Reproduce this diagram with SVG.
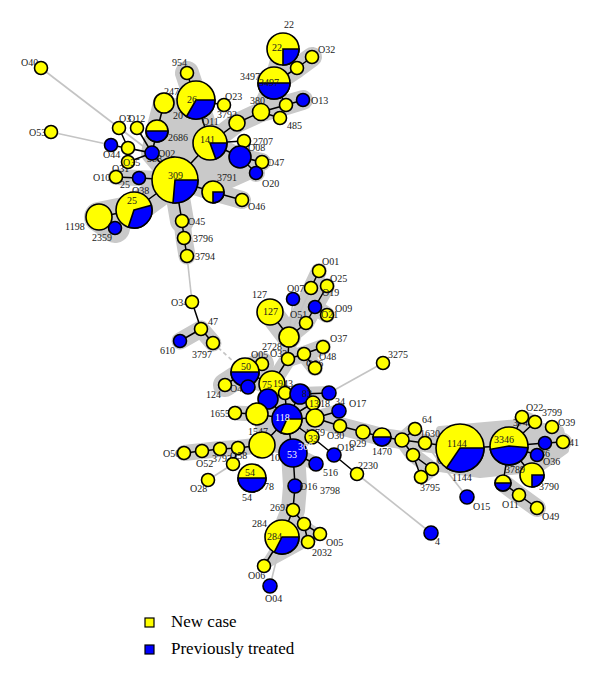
<svg xmlns="http://www.w3.org/2000/svg" width="600" height="682" viewBox="0 0 600 682">
<style>
.y{fill:#ffff00;stroke:#000;stroke-width:1.6}
.b{fill:#0000ff;stroke:#000;stroke-width:1.6}
.ps{fill:#0000ff;stroke:#000;stroke-width:1.6}
.py{fill:#ffff00;stroke:#000;stroke-width:1.6}
.e path{stroke:#000;stroke-width:1.5;fill:none}
.gl{stroke:#c4c4c4;stroke-width:1.6;fill:none}
.h path{stroke:#c9c9c9;fill:none;stroke-linecap:round;stroke-linejoin:round}
.h polygon{fill:#c9c9c9;stroke:#c9c9c9;stroke-width:8;stroke-linejoin:round}
text{font-family:"Liberation Serif","Times New Roman",serif;font-size:10px;fill:#1a1a1a}
.w{fill:#fff}
.lg{font-size:17px;fill:#000}
</style>
<rect width="600" height="682" fill="#fff"/>
<g id="hulls" class="h">
<polygon points="164,103 196,100 210,143 175,180 152,153"/>
<polygon points="175,180 210,143 240,157 256,173 213,192"/>
<path d="M187,73 L196,100 L210,143 L175,180" stroke-width="24"/>
<path d="M164,103 L157,131 L152,153 L175,180" stroke-width="22"/>
<path d="M210,143 L237,123 L261,112 L286,105 L303,100" stroke-width="20"/>
<path d="M274,83 L283,49 M274,83 L297,68 L312,57 M274,83 L261,112" stroke-width="20"/>
<path d="M175,180 L134,210 L99,217 L115,228" stroke-width="30"/>
<path d="M175,180 L213,192 L242,200" stroke-width="18"/>
<path d="M175,180 L182,221" stroke-width="24"/>
<path d="M182,221 L184,238 L187,256" stroke-width="17"/>
<path d="M210,143 L240,157 L256,173 M240,157 L262,162" stroke-width="18"/>
<path d="M116,177 L139,178 L175,180" stroke-width="16"/>
<path d="M180,341 L201,329 L213,343" stroke-width="17"/>
<path d="M270,312 L289,337" stroke-width="24"/>
<path d="M289,337 L306,323 L315,307 L327,286 M289,337 L311,288 L319,271 M315,307 L327,315" stroke-width="16"/>
<path d="M289,337 L288,359 L272,384 M288,359 L304,354 L323,347 M304,354 L315,368" stroke-width="16"/>
<path d="M245,372 L272,384 L287,419 M225,385 L245,372 L262,364" stroke-width="24"/>
<polygon points="268,399 300,394 313,403 315,418 312,437 293,453 262,445 257,414"/>
<path d="M287,419 L293,453 L295,486 L293,510 L282,537" stroke-width="24"/>
<polygon points="264,566 282,537 293,510 304,524 320,534 308,542"/>
<path d="M184,453 L202,451 L220,449 L238,448 L262,445 L287,419" stroke-width="16"/>
<path d="M235,413 L257,414 L287,419" stroke-width="15"/>
<path d="M287,419 L315,418 L340,426 L363,432 L382,437 L402,440 L425,443 L460,448 L509,446 L545,443 L563,442" stroke-width="18"/>
<polygon points="440,430 520,423 560,430 565,450 540,468 480,474 440,468"/>
<path d="M402,440 L413,455 L432,469 L421,477 M415,429 L402,440" stroke-width="15"/>
<path d="M509,446 L532,475 M503,483 L519,495 L537,508" stroke-width="18"/>
<path d="M315,418 L339,411 M300,394 L329,393 M293,453 L316,464" stroke-width="14"/>
<path d="M509,446 L522,417 L535,422" stroke-width="14"/>
</g>
<g id="connectors">
<g class="gl">
<path d="M41,68 L152,153"/>
<path d="M51,132 L111,145"/>
<path d="M187,256 L192,302"/>
<path d="M213,343 L245,372" stroke-dasharray="4,3"/>
<path d="M329,393 L383,363"/>
<path d="M357,474 L431,533"/>
<path d="M425,443 L467,497"/>
<path d="M311,288 L289,337"/>
<path d="M293,299 L289,337"/>
<path d="M270,586 L282,537"/>
<path d="M233,464 L208,480"/>
</g>
<g class="e">
<path d="M187,73 L196,100 M196,100 L224,105 M196,100 L210,143 M164,103 L157,131 L152,153"/>
<path d="M152,153 L128,148 M152,153 L111,145 M152,153 L128,162 M152,153 L175,180 M137,128 L152,153 M119,128 L128,148"/>
<path d="M116,177 L139,178 L175,180 M175,180 L210,143 M175,180 L134,210 M175,180 L213,192 L242,200"/>
<path d="M175,180 L182,221 L184,238 L187,256 M134,210 L99,217 M99,217 L115,228"/>
<path d="M210,143 L237,123 L261,112 L286,105 L303,100 M261,112 L280,118 M286,105 L274,83"/>
<path d="M274,83 L297,68 L283,49 M297,68 L312,57"/>
<path d="M210,143 L244,141 M210,143 L240,157 M240,157 L262,162 M240,157 L256,173"/>
<path d="M192,302 L201,329 M201,329 L180,341 M201,329 L213,343"/>
<path d="M270,312 L289,337 M289,337 L306,323 L315,307 L327,286 M315,307 L327,315 M319,271 L311,288"/>
<path d="M289,337 L288,359 L272,384 M288,359 L304,354 L323,347 M304,354 L315,368"/>
<path d="M245,372 L262,364 M245,372 L225,385 M245,372 L248,387 M245,372 L272,384 M272,384 L268,399 M272,384 L285,393"/>
<path d="M287,419 L268,399 M287,419 L285,393 M287,419 L300,394 M287,419 L313,403 M287,419 L315,418 M287,419 L312,437 M287,419 L293,453 M287,419 L262,445 M287,419 L257,414"/>
<path d="M235,413 L257,414 M300,394 L329,393"/>
<path d="M315,418 L339,411 M315,418 L340,426 L363,432 L382,437 L402,440 L415,429 M402,440 L425,443 L460,448 M402,440 L413,455 L432,469 L421,477 L413,455"/>
<path d="M262,445 L238,448 L220,449 L202,451 L184,453 M238,448 L233,464"/>
<path d="M293,453 L316,464 M293,453 L295,486 L293,510 L304,524 L320,534 L308,542 L304,524 M293,510 L282,537 M282,537 L264,566"/>
<path d="M312,437 L334,455 L357,474"/>
<path d="M460,448 L509,446 M509,446 L522,417 M509,446 L535,422 M509,446 L545,443 L563,442 M509,446 L537,455 M509,446 L532,475 M509,446 L503,483 M503,483 L519,495 L537,508"/>
</g>
</g>
<g id="nodes">
<g id="n-O40"><text x="21" y="66">O40</text><circle class="y" cx="41" cy="68" r="6.5"/></g>
<g id="n-O53"><text x="29" y="136">O53</text><circle class="y" cx="51" cy="132" r="6.5"/></g>
<g id="n-954"><text x="172" y="66">954</text><circle class="y" cx="187" cy="73" r="6.5"/></g>
<g id="n-247"><text x="164" y="95">247</text><circle class="y" cx="164" cy="103" r="10"/></g>
<g id="n-26"><text x="173" y="119">20</text><circle class="py" cx="196" cy="100" r="19"/><path class="ps" d="M196,100 L215,100 A19,19 0 0 1 186.5,116.5 Z"/><text x="187" y="103">26</text></g>
<g id="n-O12"><text x="119" y="122">O3</text><text x="128" y="122">O12</text><circle class="y" cx="119" cy="128" r="6.5"/><circle class="y" cx="137" cy="128" r="6.5"/></g>
<g id="n-2686"><circle class="py" cx="157" cy="131" r="11"/><path class="ps" d="M168,131 A11,11 0 0 1 146,131 Z"/><text x="168" y="141">2686</text></g>
<g id="n-22"><text x="284" y="28">22</text><circle class="py" cx="283" cy="49" r="16"/><path class="ps" d="M283,49 L299,49 A16,16 0 0 1 283,65 Z"/><text x="272" y="51">22</text></g>
<g id="n-O32"><circle class="y" cx="297" cy="68" r="6.5"/><text x="318" y="53">O32</text><circle class="y" cx="312" cy="57" r="6.5"/></g>
<g id="n-3497"><text x="240" y="80">3497</text><circle class="py" cx="274" cy="83" r="16"/><path class="ps" d="M290,83 A16,16 0 0 1 258,83 Z"/><text x="259" y="86">3497</text></g>
<g id="n-O23"><text x="225" y="100">O23</text><circle class="y" cx="224" cy="105" r="6.5"/></g>
<g id="n-380"><text x="250" y="104">380</text><circle class="y" cx="261" cy="112" r="8.5"/></g>
<g id="n-O13"><circle class="y" cx="286" cy="105" r="6.5"/><text x="311" y="104">O13</text><circle class="b" cx="303" cy="100" r="6.5"/></g>
<g id="n-485"><text x="287" y="129">485</text><circle class="y" cx="280" cy="118" r="6.5"/></g>
<g id="n-3792"><text x="217" y="118">3792</text><circle class="y" cx="237" cy="123" r="8"/></g>
<g id="n-141"><text x="202" y="125">O11</text><circle class="py" cx="210" cy="143" r="17"/><path class="ps" d="M210,143 L227,143 A17,17 0 0 1 215.8,159 Z"/><text x="200" y="143">141</text></g>
<g id="n-2707"><text x="253" y="145">2707</text><text x="248" y="151">O08</text><circle class="y" cx="244" cy="141" r="6.5"/></g>
<g id="n-O08"><circle class="b" cx="240" cy="157" r="11"/></g>
<g id="n-O47"><text x="267" y="166">O47</text><circle class="y" cx="262" cy="162" r="6.5"/></g>
<g id="n-O20"><text x="262" y="187">O20</text><circle class="b" cx="256" cy="173" r="6.5"/></g>
<g id="n-O44"><text x="103" y="158">O44</text><circle class="b" cx="111" cy="145" r="6.5"/></g>
<g id="n-O35"><circle class="y" cx="128" cy="148" r="6.5"/><text x="112" y="172">O31</text><circle class="y" cx="128" cy="162" r="6.5"/><text x="123" y="166">O35</text></g>
<g id="n-O02"><text x="147" y="162">388</text><circle class="b" cx="152" cy="153" r="7"/><text x="158" y="157">O02</text></g>
<g id="n-O10"><text x="93" y="181">O10</text><circle class="y" cx="116" cy="177" r="6.5"/></g>
<g id="n-O38"><circle class="b" cx="139" cy="178" r="6.5"/><text x="120" y="188">25</text><text x="132" y="194">O38</text></g>
<g id="n-309"><circle class="py" cx="175" cy="180" r="23"/><path class="ps" d="M175,180 L198,180 A23,23 0 0 1 173,202.9 Z"/><text x="168" y="179">309</text></g>
<g id="n-3791"><text x="217" y="181">3791</text><circle class="py" cx="213" cy="192" r="11"/><path class="ps" d="M213,192 L224,192 A11,11 0 0 1 213,203 Z"/></g>
<g id="n-O46"><text x="248" y="210">O46</text><circle class="y" cx="242" cy="200" r="6.5"/></g>
<g id="n-1198"><text x="65" y="230">1198</text><circle class="y" cx="99" cy="217" r="13"/></g>
<g id="n-2359"><text x="92" y="241">2359</text><circle class="b" cx="115" cy="228" r="6.5"/></g>
<g id="n-25"><circle class="py" cx="134" cy="210" r="18"/><path class="ps" d="M134,210 L151.4,205.3 A18,18 0 0 1 128.4,227.1 Z"/><text x="127" y="204">25</text></g>
<g id="n-O45"><text x="188" y="225">O45</text><circle class="y" cx="182" cy="221" r="6.5"/></g>
<g id="n-3796"><text x="193" y="242">3796</text><circle class="y" cx="184" cy="238" r="6.5"/></g>
<g id="n-3794"><text x="195" y="260">3794</text><circle class="y" cx="187" cy="256" r="6.5"/></g>
<g id="n-O34"><text x="171" y="306">O34</text><circle class="y" cx="192" cy="302" r="6.5"/></g>
<g id="n-47"><text x="208" y="325">47</text><circle class="y" cx="201" cy="329" r="6.5"/></g>
<g id="n-610"><text x="160" y="354">610</text><circle class="b" cx="180" cy="341" r="6.5"/></g>
<g id="n-3797"><text x="192" y="358">3797</text><circle class="y" cx="213" cy="343" r="6.5"/></g>
<g id="n-127"><text x="252" y="298">127</text><circle class="y" cx="270" cy="312" r="13"/><text x="263" y="315">127</text></g>
<g id="n-O07"><text x="287" y="292">O07</text><circle class="b" cx="293" cy="299" r="6.5"/></g>
<g id="n-O01"><text x="322" y="265">O01</text><circle class="y" cx="319" cy="271" r="6.5"/><circle class="y" cx="311" cy="288" r="6.5"/></g>
<g id="n-O25"><text x="330" y="282">O25</text><circle class="y" cx="327" cy="286" r="6.5"/></g>
<g id="n-O19"><text x="322" y="296">O19</text><circle class="b" cx="315" cy="307" r="6.5"/></g>
<g id="n-O09"><text x="335" y="312">O09</text><circle class="y" cx="327" cy="315" r="6.5"/><text x="321" y="318">O21</text></g>
<g id="n-O51"><text x="290" y="318">O51</text><circle class="y" cx="306" cy="323" r="6.5"/></g>
<g id="n-2728"><text x="262" y="350">2728</text><circle class="y" cx="289" cy="337" r="10"/></g>
<g id="n-O37"><text x="330" y="342">O37</text><circle class="y" cx="323" cy="347" r="6.5"/></g>
<g id="n-O48"><text x="319" y="360">O48</text><text x="306" y="367">O06</text><circle class="y" cx="304" cy="354" r="6.5"/></g>
<g id="n-O06a"><circle class="y" cx="315" cy="368" r="6.5"/></g>
<g id="n-O33"><text x="270" y="357">O33</text><circle class="y" cx="288" cy="359" r="6.5"/></g>
<g id="n-3275"><text x="388" y="358">3275</text><circle class="y" cx="383" cy="363" r="6.5"/></g>
<g id="n-O05a"><text x="251" y="358">O05</text><circle class="y" cx="262" cy="364" r="6.5"/></g>
<g id="n-50"><circle class="py" cx="245" cy="372" r="14"/><path class="ps" d="M259,372 A14,14 0 0 1 231,372 Z"/><text x="241" y="370">50</text></g>
<g id="n-124"><text x="206" y="398">124</text><circle class="y" cx="225" cy="385" r="6.5"/></g>
<g id="n-O43"><text x="230" y="392">O43</text><circle class="b" cx="248" cy="387" r="7"/></g>
<g id="n-75"><circle class="y" cx="272" cy="384" r="13"/><text x="262" y="388">75</text><text x="273" y="387">1943</text></g>
<g id="n-B1"><circle class="b" cx="268" cy="399" r="10"/></g>
<g id="n-Y1"><circle class="y" cx="285" cy="393" r="6.5"/></g>
<g id="n-83"><circle class="b" cx="300" cy="394" r="10"/><text x="302" y="397">83</text></g>
<g id="n-B2"><circle class="b" cx="329" cy="393" r="7"/></g>
<g id="n-13"><circle class="y" cx="313" cy="403" r="7"/><text x="309" y="407">13</text><text x="320" y="407">18</text></g>
<g id="n-34"><text x="335" y="405">34</text><text x="349" y="407">O17</text><circle class="b" cx="339" cy="411" r="7"/></g>
<g id="n-1655"><text x="210" y="417">1655</text><circle class="y" cx="235" cy="413" r="6.5"/><circle class="y" cx="257" cy="414" r="11"/></g>
<g id="n-Y2"><circle class="y" cx="315" cy="418" r="9"/></g>
<g id="n-O30"><text x="327" y="439">O30</text><circle class="y" cx="340" cy="426" r="6.5"/></g>
<g id="n-118"><circle class="b" cx="287" cy="419" r="15"/><path class="py" d="M287,419 L302,419 A15,15 0 0 1 280.7,432.6 Z"/><text class="w" x="275" y="421">118</text></g>
<g id="n-1547"><text x="248" y="435">1547</text><circle class="y" cx="262" cy="445" r="13"/></g>
<g id="n-1079"><text x="305" y="436">1079</text><circle class="y" cx="312" cy="437" r="7"/><text x="308" y="442">33</text></g>
<g id="n-53"><text x="270" y="461">108</text><circle class="b" cx="293" cy="453" r="14"/><text class="w" x="287" y="458">53</text><text class="w" x="298" y="450">368</text></g>
<g id="n-516"><text x="323" y="476">516</text><circle class="b" cx="316" cy="464" r="7"/></g>
<g id="n-O18"><text x="337" y="451">O18</text><circle class="b" cx="334" cy="455" r="7"/></g>
<g id="n-2230"><text x="358" y="469">2230</text><circle class="y" cx="357" cy="474" r="6.5"/></g>
<g id="n-4"><text x="435" y="545">4</text><circle class="b" cx="431" cy="533" r="7"/></g>
<g id="n-O29"><text x="349" y="447">O29</text><circle class="y" cx="363" cy="432" r="7"/></g>
<g id="n-1470"><text x="372" y="455">1470</text><circle class="py" cx="382" cy="437" r="9"/><path class="ps" d="M391,437 A9,9 0 0 1 373,437 Z"/></g>
<g id="n-Y3"><circle class="y" cx="402" cy="440" r="7"/></g>
<g id="n-64"><text x="422" y="423">64</text><circle class="y" cx="415" cy="429" r="6.5"/></g>
<g id="n-1630"><text x="420" y="437">1630</text><circle class="y" cx="425" cy="443" r="6.5"/></g>
<g id="n-42"><text x="407" y="457">42</text><circle class="y" cx="413" cy="455" r="6.5"/></g>
<g id="n-3795"><circle class="y" cx="432" cy="469" r="6.5"/><text x="420" y="491">3795</text><circle class="y" cx="421" cy="477" r="6.5"/></g>
<g id="n-O50"><text x="163" y="457">O50</text><circle class="y" cx="184" cy="453" r="6.5"/></g>
<g id="n-O52"><circle class="y" cx="202" cy="451" r="6.5"/><text x="196" y="467">O52</text></g>
<g id="n-3793"><circle class="y" cx="220" cy="449" r="6.5"/><text x="212" y="462">3793</text></g>
<g id="n-O58"><circle class="y" cx="238" cy="448" r="6.5"/><circle class="y" cx="233" cy="464" r="6.5"/><text x="230" y="459">O58</text></g>
<g id="n-O28"><text x="190" y="492">O28</text><circle class="y" cx="208" cy="480" r="6.5"/></g>
<g id="n-54"><circle class="py" cx="252" cy="478" r="14"/><path class="ps" d="M266,478 A14,14 0 0 1 238,478 Z"/><text x="245" y="476">54</text><text x="242" y="501">54</text><text x="264" y="490">78</text></g>
<g id="n-O16"><circle class="b" cx="295" cy="486" r="7"/><text x="300" y="490">O16</text><text x="320" y="494">3798</text></g>
<g id="n-2691"><text x="270" y="511">2691</text><circle class="y" cx="293" cy="510" r="6.5"/></g>
<g id="n-O05"><circle class="y" cx="304" cy="524" r="6.5"/><circle class="y" cx="320" cy="534" r="6.5"/><text x="326" y="546">O05</text></g>
<g id="n-2032"><circle class="y" cx="308" cy="542" r="6.5"/><text x="312" y="556">2032</text></g>
<g id="n-284"><text x="252" y="527">284</text><circle class="py" cx="282" cy="537" r="17"/><path class="ps" d="M282,537 L299,537 A17,17 0 0 1 274.3,552.1 Z"/><text x="267" y="540">284</text></g>
<g id="n-O06"><text x="248" y="579">O06</text><circle class="y" cx="264" cy="566" r="6.5"/></g>
<g id="n-O04"><circle class="b" cx="270" cy="586" r="7"/><text x="265" y="602">O04</text></g>
<g id="n-1144"><text x="437" y="464">O14</text><circle class="py" cx="460" cy="448" r="24"/><path class="ps" d="M460,448 L484,448 A24,24 0 0 1 446.6,467.9 Z"/><text x="447" y="447">1144</text><text x="452" y="481">1144</text></g>
<g id="n-O15"><circle class="b" cx="467" cy="497" r="7"/><text x="473" y="510">O15</text></g>
<g id="n-3346"><circle class="py" cx="509" cy="446" r="19"/><path class="ps" d="M509,446 L527.9,447.7 A19,19 0 0 1 490.3,449.3 Z"/><text x="494" y="443">3346</text></g>
<g id="n-O22"><text x="513" y="426">3748</text><circle class="y" cx="522" cy="417" r="6.5"/><text x="526" y="411">O22</text></g>
<g id="n-3799"><circle class="y" cx="535" cy="422" r="6.5"/><text x="542" y="416">3799</text></g>
<g id="n-O39"><circle class="y" cx="552" cy="427" r="6.5"/><text x="558" y="426">O39</text></g>
<g id="n-B41"><circle class="b" cx="545" cy="443" r="6.5"/></g>
<g id="n-41"><circle class="y" cx="563" cy="442" r="6.5"/><text x="569" y="446">41</text></g>
<g id="n-86"><text x="540" y="457">86</text><circle class="b" cx="537" cy="455" r="6.5"/><text x="543" y="465">O36</text></g>
<g id="n-3790"><circle class="py" cx="532" cy="475" r="12"/><path class="ps" d="M532,475 L544,475 A12,12 0 0 1 532,487 Z"/><text x="539" y="490">3790</text></g>
<g id="n-3789"><text x="505" y="473">3789</text><circle class="py" cx="503" cy="483" r="8"/><path class="ps" d="M511,483 A8,8 0 0 1 495,483 Z"/></g>
<g id="n-O11"><circle class="y" cx="519" cy="495" r="6.5"/><text x="502" y="508">O11</text></g>
<g id="n-O49"><circle class="y" cx="537" cy="508" r="6.5"/><text x="542" y="520">O49</text></g>
</g>
<g id="legend">
<rect x="145" y="618" width="9" height="9" fill="#ffff00" stroke="#000" stroke-width="1.2"/>
<text class="lg" x="171" y="627">New case</text>
<rect x="145" y="645" width="9" height="9" fill="#0000ff" stroke="#000" stroke-width="1.2"/>
<text class="lg" x="171" y="654">Previously treated</text>
</g>
</svg>
